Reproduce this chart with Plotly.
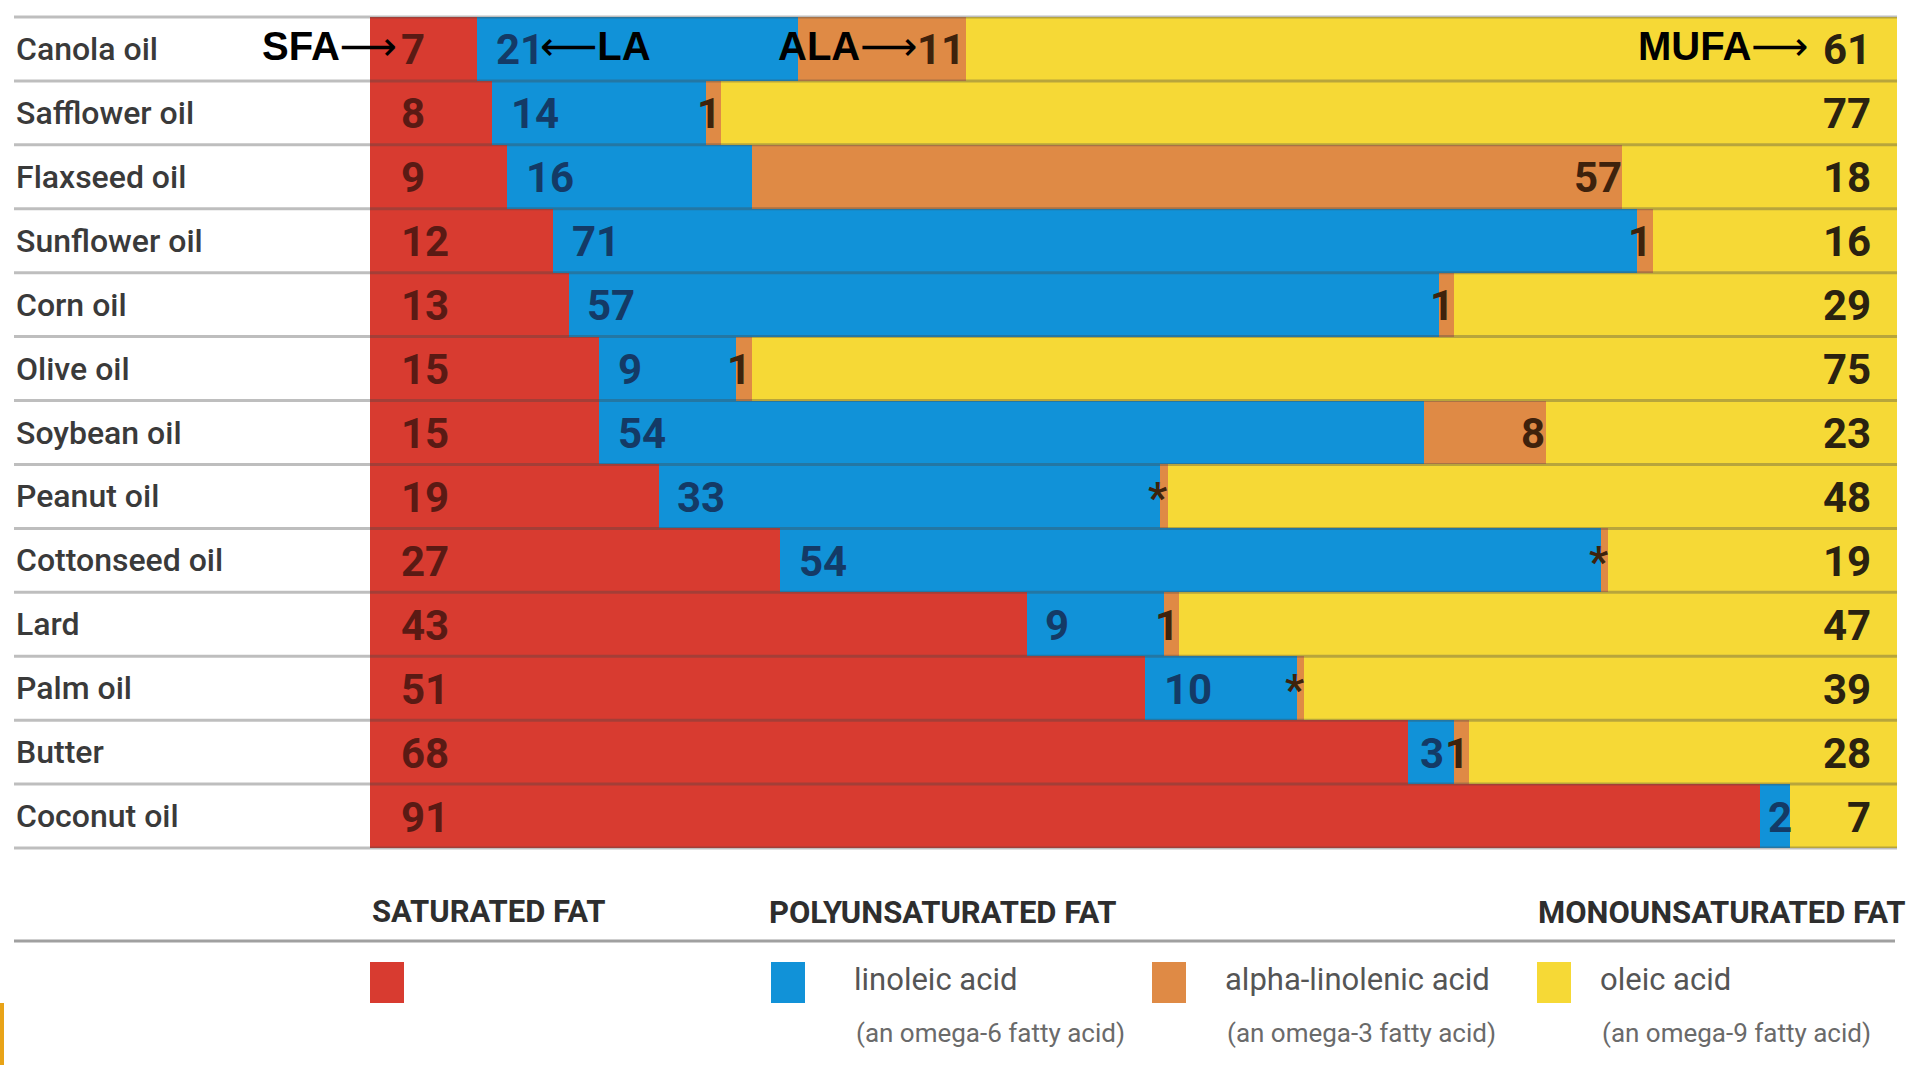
import plotly.graph_objects as go

# Fatty-acid composition of common dietary fats (% of total fat)
oils = ["Canola oil", "Safflower oil", "Flaxseed oil", "Sunflower oil", "Corn oil",
        "Olive oil", "Soybean oil", "Peanut oil", "Cottonseed oil", "Lard",
        "Palm oil", "Butter", "Coconut oil"]
sfa = [7, 8, 9, 12, 13, 15, 15, 19, 27, 43, 51, 68, 91]          # saturated fat
la = [21, 14, 16, 71, 57, 9, 54, 33, 54, 9, 10, 3, 2]            # linoleic acid
ala = [11, 1, 57, 1, 1, 1, 8, 0.5, 0.5, 1, 0.5, 1, 0]            # alpha-linolenic acid
ala_text = ["11", "1", "57", "1", "1", "1", "8", "*", "*", "1", "*", "1", ""]
mufa = [61, 77, 18, 16, 29, 75, 23, 48, 19, 47, 39, 28, 7]       # oleic acid

RED = "#d83b30"
BLUE = "#1192d8"
ORANGE = "#df8a45"
YELLOW = "#f6d936"

W, H = 1917, 1065
X0, X1 = 370, 1897        # plot area, pixels
Y0, Y1 = 17, 848

SANS = "Roboto, Liberation Sans, Arial, sans-serif"
ARIAL = "Liberation Sans, Arial, sans-serif"
ARROW = '<span style="font-family:DejaVu Sans;font-weight:normal">%s</span>'


def px(x):
    return x / W


def py(y):
    return 1 - y / H


# each row is normalised to 100 % (traces marked * are tiny)
tot = [a + b + c + d for a, b, c, d in zip(sfa, la, ala, mufa)]
n_sfa = [v * 100 / t for v, t in zip(sfa, tot)]
n_la = [v * 100 / t for v, t in zip(la, tot)]
n_ala = [v * 100 / t for v, t in zip(ala, tot)]
la_start = n_sfa
ala_end = [a + b + c for a, b, c in zip(n_sfa, n_la, n_ala)]

fig = go.Figure()
for name, vals, col in [("Saturated fat", sfa, RED), ("Linoleic acid", la, BLUE),
                        ("Alpha-linolenic acid", ala, ORANGE), ("Oleic acid", mufa, YELLOW)]:
    fig.add_trace(go.Bar(y=oils, x=vals, orientation="h", name=name,
                         marker=dict(color=col, line=dict(width=0)),
                         showlegend=False, hoverinfo="x+y+name"))

annotations = []


def value_labels(xs, texts, anchor, color):
    for x, o, t in zip(xs, oils, texts):
        if t:
            annotations.append(dict(x=x, y=o, xref="x", yref="y", text="<b>%s</b>" % t,
                                    showarrow=False, xanchor=anchor, yanchor="middle",
                                    yshift=-1, font=dict(family=SANS, size=42, color=color)))


# labels sit just inside the start of narrow blue segments
la_pad = [min(1.1, 0.2 * w) for w in n_la]
value_labels([1.9] * len(oils), [str(v) for v in sfa], "left", "#5a1a14")
value_labels([s + p for s, p in zip(la_start, la_pad)], [str(v) for v in la], "left", "#143a66")
value_labels([e + 0.1 for e in ala_end], ala_text, "right", "#3e220c")
value_labels([98.4] * len(oils), [str(v) for v in mufa], "right", "#2a2210")

# oil names on the left
for o in oils:
    annotations.append(dict(x=px(14), xref="paper", y=o, yref="y", text=o,
                            showarrow=False, xanchor="left", yanchor="middle", yshift=0,
                            font=dict(family=SANS, size=32, color="#3a3a3a", weight=500)))

# callouts on the first row
lab = dict(family=ARIAL, size=40, color="black")
annotations += [
    dict(x=1.9, y=oils[0], xref="x", yref="y", text="<b>SFA</b>" + ARROW % "⟶",
         showarrow=False, xanchor="right", yanchor="middle", yshift=3, font=lab),
    dict(x=la_start[0] + 4.0, y=oils[0], xref="x", yref="y", text=ARROW % "⟵" + "<b>LA</b>",
         showarrow=False, xanchor="left", yanchor="middle", yshift=3, font=lab),
    dict(x=ala_end[0] - 3.0, y=oils[0], xref="x", yref="y", text="<b>ALA</b>" + ARROW % "⟶",
         showarrow=False, xanchor="right", yanchor="middle", yshift=3, font=lab),
    dict(x=94.4, y=oils[0], xref="x", yref="y", text="<b>MUFA</b>" + ARROW % "⟶",
         showarrow=False, xanchor="right", yanchor="middle", yshift=3, font=lab),
]

# key below the chart
key = []
head = dict(family=SANS, size=31, color="#2e2e2e")
key += [
    dict(x=px(370), y=py(911), text="<b>SATURATED FAT</b>", font=head),
    dict(x=px(767), y=py(912), text="<b>POLYUNSATURATED FAT</b>", font=head),
    dict(x=px(1536), y=py(912), text="<b>MONOUNSATURATED FAT</b>", font=head),
]
main = dict(family=SANS, size=31, color="#555555")
sub = dict(family=SANS, size=26, color="#6a6a6a")
for x, t1, t2 in [(852, "linoleic acid", "(an omega-6 fatty acid)"),
                  (1223, "alpha-linolenic acid", "(an omega-3 fatty acid)"),
                  (1598, "oleic acid", "(an omega-9 fatty acid)")]:
    key.append(dict(x=px(x), y=py(979), text=t1, font=main))
    key.append(dict(x=px(x + 2), y=py(1033), text=t2, font=sub))
for a in key:
    a.update(xref="paper", yref="paper", xanchor="left", yanchor="middle", showarrow=False)
annotations += key

shapes = []
# row separators
for i in range(len(oils) + 1):
    y = Y0 + (Y1 - Y0) * i / len(oils)
    shapes.append(dict(type="line", xref="paper", yref="paper", x0=px(14), x1=px(X1),
                       y0=py(y), y1=py(y), line=dict(color="rgba(70,70,70,0.35)", width=3)))
# key rule and swatches
shapes.append(dict(type="line", xref="paper", yref="paper", x0=px(14), x1=px(1895),
                   y0=py(941), y1=py(941), line=dict(color="#a0a0a0", width=3)))
for x, col in [(370, RED), (771, BLUE), (1152, ORANGE), (1537, YELLOW)]:
    shapes.append(dict(type="rect", xref="paper", yref="paper", x0=px(x), x1=px(x + 34),
                       y0=py(1003), y1=py(962), fillcolor=col, line=dict(width=0)))
# page accent
shapes.append(dict(type="rect", xref="paper", yref="paper", x0=0, x1=px(4),
                   y0=py(1065), y1=py(1003), fillcolor="#e8a317", line=dict(width=0)))

fig.update_layout(
    width=W, height=H, margin=dict(l=0, r=0, t=0, b=0),
    paper_bgcolor="white", plot_bgcolor="white",
    barmode="stack", barnorm="percent", bargap=0,
    xaxis=dict(domain=[px(X0), px(X1)], range=[0, 100], visible=False, fixedrange=True),
    yaxis=dict(domain=[py(Y1), py(Y0)], categoryorder="array", categoryarray=oils,
               autorange="reversed", visible=False, fixedrange=True),
    annotations=annotations, shapes=shapes,
)

fig.write_html("out.html")
